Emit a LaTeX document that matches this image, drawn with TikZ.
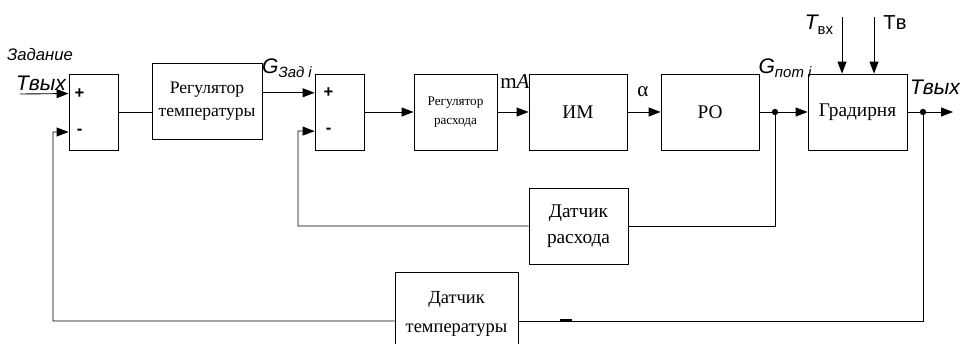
\documentclass[tikz,border=0pt]{standalone}
\usepackage{fontspec}
\setmainfont{Liberation Serif}
\setsansfont{Liberation Sans}
\usetikzlibrary{arrows.meta,calc}

\begin{document}
\begin{tikzpicture}[x=0.02cm,y=-0.02cm,line width=0.5pt,
  blk/.style={draw,minimum width=#1,minimum height=1.52cm,inner sep=1pt,align=center},
  arr/.style={-{Triangle[length=2.4mm,width=1.8mm]}},
  sig/.style={font=\sffamily\itshape\fontsize{12}{12}\selectfont,inner sep=0pt},
  pm/.style={font=\sffamily\bfseries\fontsize{9.5}{9}\selectfont,inner sep=0pt}]
 \clip (0,0) rectangle (960,344);
 % blocks of the main loop
 \node[blk=0.98cm] (sumA) at (93.5,112) {};
 \node[blk=2.2cm,font=\fontsize{10}{13}\selectfont] (regT) at (207,101) {Регулятор\\температуры};
 \node[blk=0.98cm] (sumB) at (339.5,112) {};
 \node[blk=1.66cm,font=\fontsize{7.5}{11}\selectfont] (regG) at (455.5,112) {Регулятор\\расхода};
 \node[blk=1.96cm,font=\fontsize{11}{13}\selectfont] (im) at (578,112) {ИМ};
 \node[blk=1.96cm,font=\fontsize{11}{13}\selectfont] (ro) at (710,112) {РО};
 \node[blk=1.98cm,font=\fontsize{11}{13}\selectfont] (grad) at (857.5,112) {Градирня};
 % sensors
 \node[blk=1.98cm,font=\fontsize{11}{15}\selectfont] (dG) at (578.5,226) {Датчик\\расхода};
 \node[blk=2.46cm,minimum height=1.68cm,font=\fontsize{10.5}{16}\selectfont] (dT) at (456.5,314) {Датчик\\температуры};
 % inputs of the summing boxes
 \coordinate (aP) at ($(sumA.north west)!0.26!(sumA.south west)$);
 \coordinate (aM) at ($(sumA.north west)!0.76!(sumA.south west)$);
 \coordinate (bP) at ($(sumB.north west)!0.25!(sumB.south west)$);
 \coordinate (bM) at ($(sumB.north west)!0.75!(sumB.south west)$);
 \node[pm] at ($(aP)+(11,0)$) {+};
 \node[pm] at ($(aM)+(11,0)$) {-};
 \node[pm] at ($(bP)+(14,0)$) {+};
 \node[pm] at ($(bM)+(14,0)$) {-};
 \coordinate (inT) at (20,94);
 \coordinate (dotG) at (775,112);
 \coordinate (dotT) at (923,112);
 \coordinate (outT) at (953,112);
 \coordinate (tvx) at (842,17);
 \coordinate (tv) at (874,17);
 \coordinate (fbB) at (298,131);
 \coordinate (fbT) at (53,132);
 \coordinate (cT) at (923,321);
 % forward path
 \draw[arr] (inT) -- (aP);
 \draw (sumA.east) -- (sumA.east -| regT.west);
 \draw[arr] (regT.east |- bP) -- (bP);
 \draw[arr] (sumB.east) -- (regG.west);
 \draw[arr] (regG.east) -- (im.west);
 \draw[arr] (im.east) -- (ro.west);
 \draw (ro.east) -- (dotG);
 \draw[arr] (dotG) -- (grad.west);
 \draw (grad.east) -- (dotT);
 \draw[arr] (dotT) -- (outT);
 \draw[arr] (tvx) -- (tvx |- grad.north);
 \draw[arr] (tv) -- (tv |- grad.north);
 \fill (dotG) circle (1.8pt) (dotT) circle (1.8pt);
 % feedback paths
 \draw (dotG) |- (dG.east);
 \draw[arr] (dG.west) -| (fbB) -- (bM);
 \draw (dotT) -- (cT) -- (cT -| dT.east);
 \draw[arr] (cT -| dT.west) -| (fbT) -- (aM);
 \draw[line width=1.4pt] (560,320.5) -- (572,320.5);
 % signal labels
 \node[sig,font=\sffamily\itshape\fontsize{9.5}{10}\selectfont] (zad) at (40,55) {Задание};
 \node[sig] (tin) at (41,83) {Tвых};
 \node[sig] (gz) at (287,68) {G\raisebox{-2.5pt}{\fontsize{8.5}{9}\selectfont Зад \textit{i}}};
 \node[font=\fontsize{12}{12}\selectfont,inner sep=0pt] (ma) at (515,82) {m\textit{A}};
 \node[font=\fontsize{12}{12}\selectfont,inner sep=0pt] (al) at (643,92) {α};
 \node[sig] (gp) at (785,68) {G\raisebox{-2.5pt}{\fontsize{8.5}{9}\selectfont пот \textit{i}}};
 \node[sig] (tvxl) at (819,25) {T\raisebox{-3pt}{\upshape\fontsize{8.5}{9}\selectfont вх}};
 \node[sig,font=\sffamily\fontsize{11.5}{12}\selectfont] (tvl) at (895,23) {Tв};
 \node[sig] (tout) at (935,87) {Tвых};
\end{tikzpicture}
\end{document}
